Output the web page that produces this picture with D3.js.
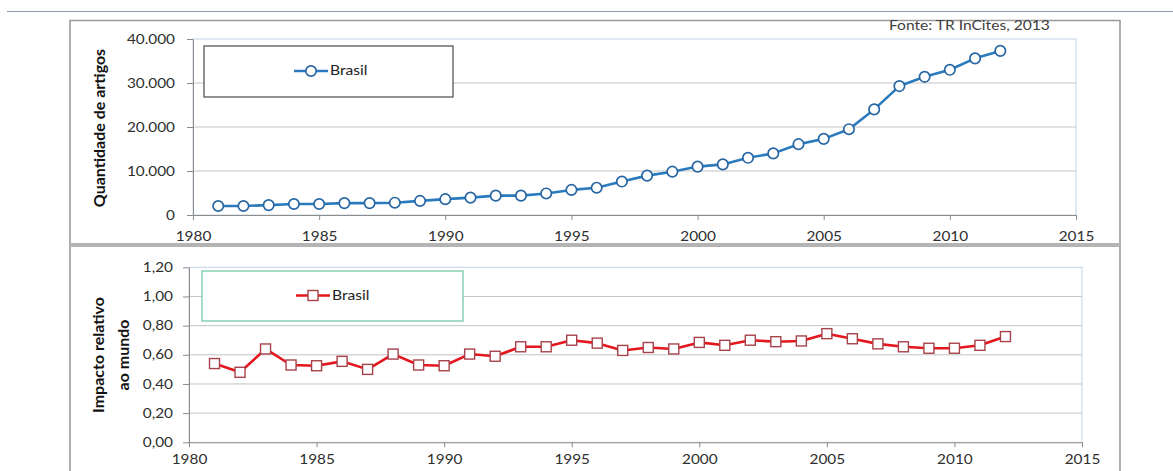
<!DOCTYPE html>
<html>
<head>
<meta charset="utf-8">
<script src="https://cdn.jsdelivr.net/npm/d3@7"></script>
<style>
  body { margin: 0; background: #fff; }
  svg { display: block; }
  text { font-family: Lato, "Open Sans", sans-serif; }
</style>
</head>
<body>
<svg id="chart" width="1173" height="471"></svg>
<script>
// Produção científica do Brasil, 1981–2012
const anos = [1981, 1982, 1983, 1984, 1985, 1986, 1987, 1988, 1989, 1990,
              1991, 1992, 1993, 1994, 1995, 1996, 1997, 1998, 1999, 2000,
              2001, 2002, 2003, 2004, 2005, 2006, 2007, 2008, 2009, 2010,
              2011, 2012];
const artigos = [2050, 2050, 2250, 2500, 2500, 2700, 2700, 2800, 3200, 3600,
                 3950, 4400, 4400, 4900, 5700, 6200, 7600, 8950, 9850, 11000,
                 11500, 13000, 14000, 16100, 17300, 19500, 24000, 29300, 31400, 33000,
                 35600, 37300];
const impacto = [0.54, 0.48, 0.64, 0.53, 0.525, 0.555, 0.50, 0.605, 0.53, 0.525,
                 0.605, 0.59, 0.655, 0.655, 0.70, 0.68, 0.63, 0.65, 0.64, 0.685,
                 0.665, 0.70, 0.69, 0.695, 0.745, 0.71, 0.675, 0.655, 0.645, 0.645,
                 0.665, 0.725];

const anoTicks = [1980, 1985, 1990, 1995, 2000, 2005, 2010, 2015];
const artigosTicks = [0, 10000, 20000, 30000, 40000];
const impactoTicks = [0, 0.2, 0.4, 0.6, 0.8, 1.0, 1.2];

const serie = "Brasil";
const fonte = "Fonte: TR InCites, 2013";
const tituloArtigos = ["Quantidade de artigos"];
const tituloImpacto = ["Impacto relativo", "ao mundo"];

const br = d3.formatLocale({ decimal: ",", thousands: ".", grouping: [3], currency: ["R$", ""] });
const fmtArtigos = br.format(",.0f");
const fmtImpacto = br.format(".2f");

const svg = d3.select("#chart");
const SX = 1.2; // horizontal stretch of the lettering

// page rule and frames
svg.append("line").attr("x1", 7).attr("x2", 1173).attr("y1", 11.5).attr("y2", 11.5)
  .attr("stroke", "#8d97b5").attr("stroke-width", 1.2);
svg.append("path").attr("d", "M70,471V20.5H1120V471")
  .attr("fill", "none").attr("stroke", "#9a9a9a").attr("stroke-width", 1.6);
svg.append("rect").attr("x", 70).attr("y", 243).attr("width", 1050).attr("height", 4)
  .attr("fill", "#b4b4b4");

svg.append("text").attr("x", 889 / SX).attr("y", 30.5)
  .attr("transform", `scale(${SX},1)`)
  .attr("font-size", 13).attr("fill", "#404040").text(fonte);

function painel(cfg) {
  const x = d3.scaleLinear().domain([1980, 2015]).range([cfg.x0, cfg.x1]);
  const y = d3.scaleLinear().domain(cfg.dominio).range([cfg.y0, cfg.y1]);
  const g = svg.append("g");

  // plot border and gridlines
  g.append("rect").attr("x", cfg.x0).attr("y", cfg.y1)
    .attr("width", cfg.x1 - cfg.x0).attr("height", cfg.y0 - cfg.y1)
    .attr("fill", "none").attr("stroke", "#c3d3e6").attr("stroke-width", 1);
  g.append("g").selectAll("line")
    .data(cfg.ticks.slice(1, -1))
    .join("line")
    .attr("x1", cfg.x0).attr("x2", cfg.x1)
    .attr("y1", d => y(d)).attr("y2", d => y(d))
    .attr("stroke", "#c4c4c4").attr("stroke-width", 1);

  // axes
  const ay = g.append("g").attr("transform", `translate(${cfg.x0},0)`)
    .call(d3.axisLeft(y).tickValues(cfg.ticks).tickFormat(cfg.fmt)
      .tickSize(6).tickSizeOuter(0));
  ay.select(".domain").attr("stroke", "#8c8c8c");
  ay.selectAll(".tick line").attr("stroke", "#8c8c8c");
  ay.selectAll(".tick text")
    .attr("x", -cfg.gapY / SX).attr("transform", `scale(${SX},1)`)
    .attr("font-size", 12.8).attr("fill", "#2e2e2e").attr("font-family", null);

  const ax = g.append("g").attr("transform", `translate(0,${cfg.y0})`)
    .call(d3.axisBottom(x).tickValues(anoTicks).tickFormat(d3.format("d"))
      .tickSize(5).tickSizeOuter(0).tickPadding(cfg.padX));
  ax.select(".domain").attr("stroke", "#8c8c8c");
  ax.selectAll(".tick line").attr("stroke", "#8c8c8c");
  ax.selectAll(".tick text").attr("transform", `scale(${SX},1)`)
    .attr("font-size", 12.8).attr("fill", "#2e2e2e").attr("font-family", null);

  // axis title
  const t = g.append("text").attr("transform", `translate(0,${cfg.tituloY}) rotate(-90)`)
    .attr("text-anchor", "middle").attr("font-size", 16).attr("font-weight", "bold")
    .attr("fill", "#111");
  cfg.titulo.forEach((linha, i) => {
    t.append("tspan").attr("x", 0).attr("y", cfg.tituloX[i]).text(linha);
  });

  // legend
  g.append("rect").attr("x", cfg.leg.x).attr("y", cfg.leg.y)
    .attr("width", cfg.leg.w).attr("height", cfg.leg.h)
    .attr("fill", "#fff").attr("stroke", cfg.leg.borda).attr("stroke-width", 1.2);
  g.append("line").attr("x1", cfg.leg.lx).attr("x2", cfg.leg.lx + 34)
    .attr("y1", cfg.leg.ly).attr("y2", cfg.leg.ly)
    .attr("stroke", cfg.cor).attr("stroke-width", 2.5);
  cfg.marcador(g.append("g"), [[cfg.leg.lx + 17, cfg.leg.ly]]);
  g.append("text").attr("x", (cfg.leg.lx + 36) / SX).attr("y", cfg.leg.ly + 4.5)
    .attr("transform", `scale(${SX},1)`)
    .attr("font-size", 13).attr("fill", "#222").text(serie);

  // series
  const pts = anos.map((a, i) => [x(a), y(cfg.valores[i])]);
  g.append("path").attr("d", d3.line()(pts))
    .attr("fill", "none").attr("stroke", cfg.cor).attr("stroke-width", 2.6)
    .attr("stroke-linejoin", "round");
  cfg.marcador(g.append("g"), pts);
}

function circulos(sel, pts) {
  sel.selectAll("circle").data(pts).join("circle")
    .attr("cx", d => d[0]).attr("cy", d => d[1]).attr("r", 5.2)
    .attr("fill", "#fff").attr("stroke", "#2866a3").attr("stroke-width", 1.7);
}
function quadrados(sel, pts) {
  sel.selectAll("rect").data(pts).join("rect")
    .attr("x", d => d[0] - 5).attr("y", d => d[1] - 5)
    .attr("width", 10).attr("height", 10)
    .attr("fill", "#fff").attr("stroke", "#a8424a").attr("stroke-width", 1.4);
}

painel({
  x0: 193, x1: 1076, y0: 215, y1: 39,
  dominio: [0, 40000], ticks: artigosTicks, fmt: fmtArtigos, valores: artigos,
  gapY: 18, padX: 12,
  cor: "#2a7bbd", marcador: circulos,
  titulo: tituloArtigos, tituloX: [105], tituloY: 128,
  leg: { x: 204, y: 46, w: 249, h: 51, borda: "#4a4a4a", lx: 294, ly: 71 }
});

painel({
  x0: 189, x1: 1082, y0: 442.3, y1: 267.3,
  dominio: [0, 1.2], ticks: impactoTicks, fmt: fmtImpacto, valores: impacto,
  gapY: 16, padX: 8,
  cor: "#e4161e", marcador: quadrados,
  titulo: tituloImpacto, tituloX: [104, 129], tituloY: 355,
  leg: { x: 202, y: 271, w: 261, h: 50, borda: "#6cc4a4", lx: 296, ly: 295.5 }
});
</script>
</body>
</html>
